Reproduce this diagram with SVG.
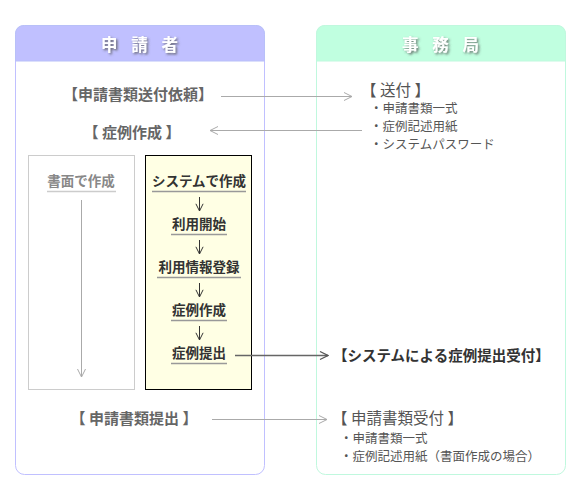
<svg xmlns="http://www.w3.org/2000/svg" width="580" height="500" viewBox="0 0 580 500">
<defs>
<filter id="sh" x="-20%" y="-50%" width="140%" height="200%">
<feDropShadow dx="1.5" dy="1.5" stdDeviation="1" flood-color="#555" flood-opacity="0.8"/>
</filter>
<marker id="ah" viewBox="0 0 10 10" refX="9" refY="5" markerWidth="10" markerHeight="10" markerUnits="userSpaceOnUse" orient="auto">
<path d="M1,1 L9,5 L1,9" fill="none" stroke="#aaa" stroke-width="1"/>
</marker>
<marker id="ahd" viewBox="0 0 10 10" refX="9" refY="5" markerWidth="10" markerHeight="10" markerUnits="userSpaceOnUse" orient="auto">
<path d="M1,1 L9,5 L1,9" fill="none" stroke="#555" stroke-width="1.2"/>
</marker>
<marker id="ahs" viewBox="0 0 10 10" refX="9" refY="5" markerWidth="9" markerHeight="9" markerUnits="userSpaceOnUse" orient="auto">
<path d="M1,1 L9,5 L1,9" fill="none" stroke="#333" stroke-width="1.1"/>
</marker>
</defs>
<style>
text{font-family:"Noto Sans CJK JP","Noto Sans",sans-serif}
.hd{font-size:16.5px;font-weight:bold;fill:#fff;letter-spacing:5px}
.lt{font-size:15px;font-weight:bold;fill:#666}
.rt{font-size:15.5px;fill:#555}
.it{font-size:12.5px;fill:#555}
.yb{font-size:13.5px;font-weight:bold;fill:#333}
.ul{stroke:#999;stroke-width:1.5}
.conn{stroke:#aaa;stroke-width:1;fill:none}
</style>

<g id="applicant">
<rect x="15.5" y="25.5" width="249" height="449" rx="9" fill="#fff" stroke="#c0c0ff"/>
<path d="M15.5,61 V34.5 Q15.5,25.5 24.5,25.5 H255.5 Q264.5,25.5 264.5,34.5 V61 Z" fill="#c0c0ff" stroke="#b8c0f8"/>
<text class="hd" x="142" y="51" text-anchor="middle" filter="url(#sh)">申 請 者</text>
</g>

<g id="office">
<rect x="316.5" y="25.5" width="249" height="449" rx="9" fill="#fff" stroke="#c0f8de"/>
<path d="M316.5,61 V34.5 Q316.5,25.5 325.5,25.5 H556.5 Q565.5,25.5 565.5,34.5 V61 Z" fill="#c0ffe0" stroke="#c0f8de"/>
<text class="hd" x="443" y="51" text-anchor="middle" filter="url(#sh)">事 務 局</text>
</g>

<g id="request">
<text class="lt" x="138" y="100" text-anchor="middle">【申請書類送付依頼】</text>
</g>
<g id="send">
<text class="rt" x="361" y="96">【 送付 】</text>
<text class="it" x="370" y="113">・申請書類一式</text>
<text class="it" x="370" y="131">・症例記述用紙</text>
<text class="it" x="370" y="149">・システムパスワード</text>
</g>
<g id="create">
<text class="lt" x="132" y="138" text-anchor="middle">【 症例作成 】</text>
</g>

<g id="paper">
<rect x="28.5" y="155.5" width="106" height="234" fill="#fff" stroke="#ccc"/>
<text x="81" y="186" text-anchor="middle" style="font-size:13.5px;font-weight:bold;fill:#888">書面で作成</text>
<line x1="47" y1="191.5" x2="116" y2="191.5" stroke="#ccc" stroke-width="1.5"/>
</g>

<g id="system">
<rect x="145.5" y="155.5" width="106" height="234" fill="#ffffe4" stroke="#000"/>
<text class="yb" x="199" y="186" text-anchor="middle">システムで作成</text>
<line class="ul" x1="152" y1="191.5" x2="246" y2="191.5"/>
<text class="yb" x="199" y="229" text-anchor="middle">利用開始</text>
<line class="ul" x1="171" y1="234.5" x2="227" y2="234.5"/>
<text class="yb" x="199" y="272" text-anchor="middle">利用情報登録</text>
<line class="ul" x1="157" y1="277.5" x2="241" y2="277.5"/>
<text class="yb" x="199" y="315" text-anchor="middle">症例作成</text>
<line class="ul" x1="171" y1="320.5" x2="227" y2="320.5"/>
<text class="yb" x="199" y="358" text-anchor="middle">症例提出</text>
<line class="ul" x1="171" y1="363.5" x2="227" y2="363.5"/>
</g>

<g id="system-receive">
<text x="333" y="361" style="font-size:14.5px;font-weight:bold;fill:#333">【システムによる症例提出受付】</text>
</g>
<g id="submit">
<text class="lt" x="134" y="424" text-anchor="middle">【 申請書類提出 】</text>
</g>
<g id="receive">
<text class="rt" x="332" y="424">【 申請書類受付 】</text>
<text class="it" x="340" y="443">・申請書類一式</text>
<text class="it" x="340" y="461">・症例記述用紙（書面作成の場合）</text>
</g>

<g id="connectors">
<line class="conn" x1="221" y1="96.5" x2="352" y2="96.5" marker-end="url(#ah)"/>
<line class="conn" x1="362" y1="130.5" x2="210" y2="130.5" marker-end="url(#ah)"/>
<line class="conn" x1="81.5" y1="200" x2="81.5" y2="377" marker-end="url(#ah)"/>
<line x1="199.5" y1="197" x2="199.5" y2="211" stroke="#333" stroke-width="1" marker-end="url(#ahs)"/>
<line x1="199.5" y1="240" x2="199.5" y2="254" stroke="#333" stroke-width="1" marker-end="url(#ahs)"/>
<line x1="199.5" y1="283" x2="199.5" y2="297" stroke="#333" stroke-width="1" marker-end="url(#ahs)"/>
<line x1="199.5" y1="326" x2="199.5" y2="340" stroke="#333" stroke-width="1" marker-end="url(#ahs)"/>
<line x1="235" y1="355.5" x2="328" y2="355.5" stroke="#666" stroke-width="1.5" marker-end="url(#ahd)"/>
<line class="conn" x1="212" y1="419.5" x2="327" y2="419.5" marker-end="url(#ah)"/>
</g>
</svg>
